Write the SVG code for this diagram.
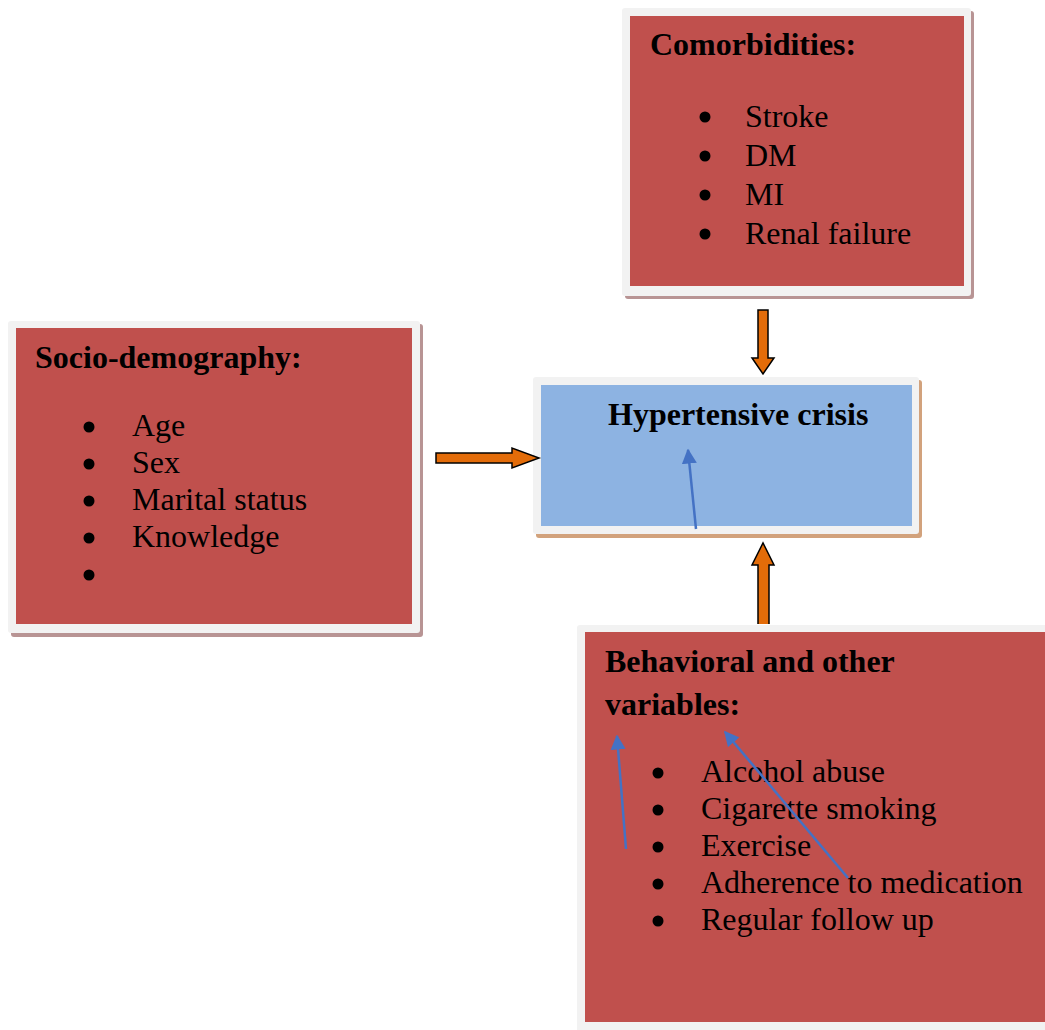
<svg xmlns="http://www.w3.org/2000/svg" width="1045" height="1030" viewBox="0 0 1045 1030">
<style>
.t{font-family:"Liberation Serif","Times New Roman",serif;font-size:32px;fill:#000}
.b{font-weight:bold}
.frame{fill:#f2f2f2}
.red{fill:#c0504d}
.blue{fill:#8db3e2}
.shr{fill:#b89494}
.shb{fill:#d2a27c}
.blk{fill:#e36c09;stroke:#000;stroke-width:1.5;stroke-linejoin:miter}
.bl{stroke:#4472c4;stroke-width:2.5;fill:none}
</style>
<defs>
<marker id="ah" viewBox="0 0 10 10" refX="9" refY="5" markerWidth="6" markerHeight="6" orient="auto" markerUnits="strokeWidth">
<path d="M0,0 L10,5 L0,10 z" fill="#4472c4"/>
</marker>
</defs>
<rect width="1045" height="1030" fill="#fff"/>
<g id="comorbidities">
<rect class="shr" x="625" y="11" width="349" height="288" rx="3"/>
<rect class="frame" x="622" y="8" width="349" height="288" rx="3"/>
<rect class="red" x="630" y="16" width="334" height="270"/>
<text class="t b" x="650" y="55">Comorbidities:</text>
<circle cx="705" cy="117" r="5.5"/><text class="t" x="745" y="127">Stroke</text>
<circle cx="705" cy="156" r="5.5"/><text class="t" x="745" y="166">DM</text>
<circle cx="705" cy="195" r="5.5"/><text class="t" x="745" y="205">MI</text>
<circle cx="705" cy="234" r="5.5"/><text class="t" x="745" y="244">Renal failure</text>
</g>
<g id="socio">
<rect class="shr" x="11" y="324" width="412" height="313" rx="3"/>
<rect class="frame" x="8" y="321" width="412" height="312" rx="3"/>
<rect class="red" x="16" y="328" width="396" height="296"/>
<text class="t b" x="35" y="368">Socio-demography:</text>
<circle cx="89" cy="427" r="5.5"/><text class="t" x="132" y="436">Age</text>
<circle cx="89" cy="464" r="5.5"/><text class="t" x="132" y="473">Sex</text>
<circle cx="89" cy="501" r="5.5"/><text class="t" x="132" y="510">Marital status</text>
<circle cx="89" cy="538" r="5.5"/><text class="t" x="132" y="547">Knowledge</text>
<circle cx="89" cy="575" r="5.5"/>
</g>
<g id="hypertensive">
<rect class="shb" x="536" y="380" width="386" height="158" rx="3"/>
<rect class="frame" x="533" y="377" width="386" height="157" rx="3"/>
<rect class="blue" x="541" y="385" width="371" height="141"/>
<text class="t b" x="608" y="425">Hypertensive crisis</text>
</g>
<g id="behavioral">
<rect class="frame" x="577" y="625" width="475" height="410" rx="3"/>
<rect class="red" x="585" y="632" width="470" height="390"/>
<text class="t b" x="605" y="672">Behavioral and other</text>
<text class="t b" x="605" y="715">variables:</text>
<circle cx="658" cy="773" r="5.5"/><text class="t" x="701" y="782">Alcohol abuse</text>
<circle cx="658" cy="810" r="5.5"/><text class="t" x="701" y="819">Cigarette smoking</text>
<circle cx="658" cy="847" r="5.5"/><text class="t" x="701" y="856">Exercise</text>
<circle cx="658" cy="884" r="5.5"/><text class="t" x="701" y="893">Adherence to medication</text>
<circle cx="658" cy="921" r="5.5"/><text class="t" x="701" y="930">Regular follow up</text>
</g>
<g id="connectors">
<path class="blk" d="M758,310 L768,310 L768,358 L774,358 L763,374 L752,358 L758,358 Z"/>
<path class="blk" d="M436,453 L512,453 L512,448 L539,458 L512,468 L512,463 L436,463 Z"/>
<path class="blk" d="M758,624 L758,565 L752,565 L763,543 L774,565 L769,565 L769,624"/>
<line class="bl" x1="696" y1="529" x2="688" y2="450" marker-end="url(#ah)"/>
<line class="bl" x1="626" y1="849" x2="617" y2="736" marker-end="url(#ah)"/>
<line class="bl" x1="848" y1="878" x2="725" y2="732" marker-end="url(#ah)"/>
</g>
</svg>
